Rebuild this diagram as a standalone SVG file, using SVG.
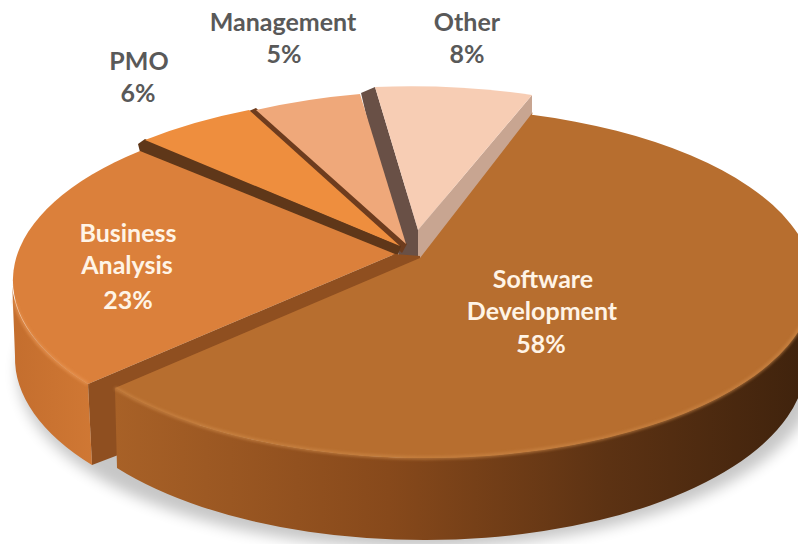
<svg xmlns="http://www.w3.org/2000/svg" width="798" height="544" viewBox="0 0 798 544">
  <defs>
    <linearGradient id="sdWall" x1="115" y1="0" x2="800" y2="0" gradientUnits="userSpaceOnUse">
      <stop offset="0" stop-color="#a86127"/>
      <stop offset="0.4" stop-color="#87491b"/>
      <stop offset="0.72" stop-color="#5c3213"/>
      <stop offset="1" stop-color="#40230d"/>
    </linearGradient>
    <linearGradient id="baWall" x1="12" y1="0" x2="95" y2="0" gradientUnits="userSpaceOnUse">
      <stop offset="0" stop-color="#c46e2e"/>
      <stop offset="1" stop-color="#d07834"/>
    </linearGradient>
    <filter id="blur" x="-20%" y="-20%" width="140%" height="140%">
      <feGaussianBlur stdDeviation="7"/>
    </filter>
    <filter id="soft" x="-5%" y="-5%" width="110%" height="110%">
      <feGaussianBlur stdDeviation="1.5"/>
    </filter>
  </defs>
  <style>
    .out { font-family: Lato, "Liberation Sans", sans-serif; font-weight: bold; font-size: 25px; fill: #595959; text-anchor: middle; }
    .in { font-family: Lato, "Liberation Sans", sans-serif; font-weight: bold; font-size: 25px; fill: #fff4e6; text-anchor: middle; }
  </style>
  <rect width="798" height="544" fill="#ffffff"/>

  <!-- shadow -->
  <ellipse cx="418" cy="372" rx="400" ry="176" fill="#000" opacity="0.22" filter="url(#blur)"/>

  <g id="other">
    <polygon points="361,93 375,87 418,230 419,260 400,260" fill="#695046"/>
    <polygon points="418,230 532,95 532,175 418,310" fill="#c8a591"/>
    <path d="M418,230 L375,87 A390 175 0 0 1 532,95 Z" fill="#f7cdb4"/>
  </g>

  <g id="management">
    <polygon points="249,111 256,108 407,244 402,253" fill="#6e3c1e"/>
    <path d="M406,244 L256,110 A390 175 0 0 1 360,94 Z" fill="#efa87a"/>
  </g>

  <g id="pmo">
    <polygon points="138,144 145,139 401,246 397,257 140,152" fill="#5f3719"/>
    <path d="M400,246 L145,140 A390 175 0 0 1 249,110 Z" fill="#ee8e3e"/>
  </g>

  <g id="business-analysis">
    <path d="M395,254 L88,384 L92,465 L420,340 L420,256 Z" fill="#8f4f20"/>
    <path d="M88,384 A388 175 0 0 1 12,279 L15,356 A385 178 0 0 0 92,465 Z" fill="url(#baWall)"/>
    <path d="M395,254 L88,384 A388 175 0 0 1 140,151 Z" fill="#db803b"/>
    <path d="M88,384 A388 175 0 0 1 14,300" fill="none" stroke="#e89553" stroke-width="3" opacity="0.8" filter="url(#soft)"/>
  </g>

  <g id="software-development">
    <path d="M115,388 A388 175 0 0 0 813,283 L806,362 A382 178 0 0 1 117,468 Z" fill="url(#sdWall)"/>
    <path d="M420,258 L533,112 L531.9,114.8 A388 175 0 1 1 115,388 Z" fill="#b76e2f"/>
    <path d="M115,388 A388 175 0 0 0 813,283" fill="none" stroke="#cf8a4a" stroke-width="3" opacity="0.7" filter="url(#soft)"/>
  </g>

  <g id="labels">
    <text class="out" x="283" y="31">Management</text>
    <text class="out" x="284" y="63">5%</text>
    <text class="out" x="467" y="31">Other</text>
    <text class="out" x="467" y="63">8%</text>
    <text class="out" x="139" y="70">PMO</text>
    <text class="out" x="138" y="102">6%</text>
    <text class="in" x="128" y="242">Business</text>
    <text class="in" x="127" y="274">Analysis</text>
    <text class="in" x="128" y="309">23%</text>
    <text class="in" x="543" y="288">Software</text>
    <text class="in" x="542" y="320">Development</text>
    <text class="in" x="541" y="353">58%</text>
  </g>
</svg>
